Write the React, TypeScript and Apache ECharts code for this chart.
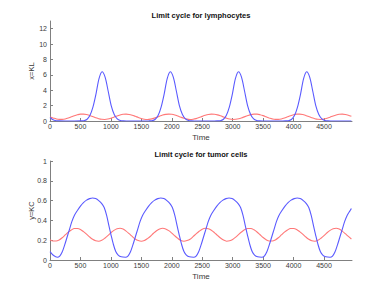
import React, { useEffect, useRef } from 'react';
import * as echarts from 'echarts';

// Sample times (shared by the two red curves)
const sampleTime = [
  0, 50, 100, 150, 200, 250, 300, 350, 400, 450,
  500, 550, 600, 650, 700, 750, 800, 850, 900, 950,
  1000, 1050, 1100, 1150, 1200, 1250, 1300, 1350, 1400, 1450,
  1500, 1550, 1600, 1650, 1700, 1750, 1800, 1850, 1900, 1950,
  2000, 2050, 2100, 2150, 2200, 2250, 2300, 2350, 2400, 2450,
  2500, 2550, 2600, 2650, 2700, 2750, 2800, 2850, 2900, 2950,
  3000, 3050, 3100, 3150, 3200, 3250, 3300, 3350, 3400, 3450,
  3500, 3550, 3600, 3650, 3700, 3750, 3800, 3850, 3900, 3950,
  4000, 4050, 4100, 4150, 4200, 4250, 4300, 4350, 4400, 4450,
  4500, 4550, 4600, 4650, 4700, 4750, 4800, 4850, 4900, 4950,
];

// Lymphocytes (x = KL), red curve
const lymphRed = [
  0.50, 0.40, 0.28, 0.21, 0.21, 0.27, 0.39, 0.54, 0.69, 0.81,
  0.89, 0.89, 0.84, 0.72, 0.58, 0.43, 0.30, 0.22, 0.20, 0.25,
  0.36, 0.50, 0.66, 0.79, 0.88, 0.90, 0.855, 0.75, 0.61, 0.46,
  0.32, 0.23, 0.20, 0.24, 0.34, 0.47, 0.63, 0.77, 0.86, 0.90,
  0.87, 0.78, 0.64, 0.49, 0.35, 0.24, 0.20, 0.23, 0.31, 0.45,
  0.60, 0.74, 0.85, 0.90, 0.88, 0.80, 0.67, 0.52, 0.37, 0.26,
  0.20, 0.22, 0.29, 0.42, 0.57, 0.71, 0.83, 0.89, 0.89, 0.82,
  0.70, 0.55, 0.40, 0.28, 0.21, 0.21, 0.27, 0.39, 0.54, 0.69,
  0.81, 0.89, 0.89, 0.84, 0.72, 0.58, 0.43, 0.30, 0.22, 0.20,
  0.25, 0.36, 0.50, 0.66, 0.79, 0.88, 0.90, 0.855, 0.75, 0.61,
];

// Tumor cells (y = KC), red curve
const tumorRed = [
  0.205, 0.192, 0.192, 0.203, 0.225, 0.253, 0.281, 0.303, 0.318, 0.318,
  0.309, 0.287, 0.261, 0.233, 0.209, 0.194, 0.190, 0.199, 0.220, 0.246,
  0.275, 0.299, 0.316, 0.320, 0.312, 0.292, 0.266, 0.238, 0.212, 0.196,
  0.190, 0.197, 0.216, 0.240, 0.270, 0.296, 0.313, 0.320, 0.314, 0.297,
  0.272, 0.244, 0.218, 0.197, 0.190, 0.196, 0.210, 0.236, 0.264, 0.290,
  0.311, 0.320, 0.316, 0.301, 0.277, 0.249, 0.222, 0.201, 0.190, 0.194,
  0.207, 0.231, 0.259, 0.285, 0.307, 0.318, 0.318, 0.305, 0.283, 0.255,
  0.227, 0.205, 0.192, 0.192, 0.203, 0.225, 0.253, 0.281, 0.303, 0.318,
  0.318, 0.309, 0.287, 0.261, 0.233, 0.209, 0.194, 0.190, 0.199, 0.220,
  0.246, 0.275, 0.299, 0.316, 0.320, 0.312, 0.292, 0.266, 0.238, 0.212,
];

// Lymphocytes (x = KL), blue curve
const lymphBlueTime = [
  0, 50, 100, 150, 250, 400,
  505, 555, 605, 655, 705, 755, 805, 855, 905, 955, 1005, 1055, 1105, 1155, 1205, 1255, 1400, 1600,
  1625, 1675, 1725, 1775, 1825, 1875, 1925, 1975, 2025, 2075, 2125, 2175, 2225, 2275, 2325, 2375, 2500, 2700,
  2745, 2795, 2845, 2895, 2945, 2995, 3045, 3095, 3145, 3195, 3245, 3295, 3345, 3395, 3445, 3495, 3650, 3820,
  3865, 3915, 3965, 4015, 4065, 4115, 4165, 4215, 4265, 4315, 4365, 4415, 4465, 4515, 4565, 4615, 4750, 4950,
];
const lymphBlue = [
  0.45, 0.15, 0.04, 0.01, 0, 0,
  0.01, 0.04, 0.2, 0.7, 1.8, 3.5, 5.5, 6.4, 5.7, 3.9, 2.0, 0.85, 0.28, 0.07, 0.015, 0.003, 0, 0,
  0.01, 0.04, 0.2, 0.7, 1.8, 3.5, 5.5, 6.4, 5.7, 3.9, 2.0, 0.85, 0.28, 0.07, 0.015, 0.003, 0, 0,
  0.01, 0.04, 0.2, 0.7, 1.8, 3.5, 5.5, 6.4, 5.7, 3.9, 2.0, 0.85, 0.28, 0.07, 0.015, 0.003, 0, 0,
  0.01, 0.04, 0.2, 0.7, 1.8, 3.5, 5.5, 6.4, 5.7, 3.9, 2.0, 0.85, 0.28, 0.07, 0.015, 0.003, 0, 0,
];

// Tumor cells (y = KC), blue curve
const tumorBlueTime = [
  0, 60,
  120, 160, 200, 240, 280, 320, 360, 400, 450, 500, 550, 600, 650, 700, 750, 800, 850, 890, 930, 970, 1000, 1040, 1080, 1120, 1170,
  1240, 1280, 1320, 1360, 1400, 1440, 1480, 1520, 1570, 1620, 1670, 1720, 1770, 1820, 1870, 1920, 1970, 2010, 2050, 2090, 2120, 2160, 2200, 2240, 2290,
  2360, 2400, 2440, 2480, 2520, 2560, 2600, 2640, 2690, 2740, 2790, 2840, 2890, 2940, 2990, 3040, 3090, 3130, 3170, 3210, 3240, 3280, 3320, 3360, 3410,
  3480, 3520, 3560, 3600, 3640, 3680, 3720, 3760, 3810, 3860, 3910, 3960, 4010, 4060, 4110, 4160, 4210, 4250, 4290, 4330, 4360, 4400, 4440, 4480, 4530,
  4600, 4640, 4680, 4720, 4760, 4800, 4840, 4880, 4930, 4950,
];
const tumorBlue = [
  0.085, 0.045,
  0.028, 0.04, 0.08, 0.15, 0.23, 0.31, 0.39, 0.45, 0.50, 0.545, 0.58, 0.605, 0.62, 0.627, 0.62, 0.60, 0.57, 0.53, 0.45, 0.34, 0.26, 0.16, 0.085, 0.05, 0.032,
  0.028, 0.04, 0.08, 0.15, 0.23, 0.31, 0.39, 0.45, 0.50, 0.545, 0.58, 0.605, 0.62, 0.627, 0.62, 0.60, 0.57, 0.53, 0.45, 0.34, 0.26, 0.16, 0.085, 0.05, 0.032,
  0.028, 0.04, 0.08, 0.15, 0.23, 0.31, 0.39, 0.45, 0.50, 0.545, 0.58, 0.605, 0.62, 0.627, 0.62, 0.60, 0.57, 0.53, 0.45, 0.34, 0.26, 0.16, 0.085, 0.05, 0.032,
  0.028, 0.04, 0.08, 0.15, 0.23, 0.31, 0.39, 0.45, 0.50, 0.545, 0.58, 0.605, 0.62, 0.627, 0.62, 0.60, 0.57, 0.53, 0.45, 0.34, 0.26, 0.16, 0.085, 0.05, 0.032,
  0.028, 0.04, 0.08, 0.15, 0.23, 0.31, 0.39, 0.45, 0.50, 0.52,
];

const timeTicks = [0, 500, 1000, 1500, 2000, 2500, 3000, 3500, 4000, 4500];
const lymphTicks = [0, 2, 4, 6, 8, 10, 12];
const tumorTicks = [0, 0.2, 0.4, 0.6, 0.8, 1];

const titles = ['Limit cycle for lymphocytes', 'Limit cycle for tumor cells'];
const yNames = ['x=KL', 'y=KC'];
const xName = 'Time';

const FONT = 'Liberation Sans, Arial, Helvetica, sans-serif';
const AXIS = '#808080';
const LABEL = '#3a3a3a';
const BLUE = '#5a5aff';
const RED = '#ff7878';

const pairs = (xs: number[], ys: number[]) => xs.map((x, i) => [x, ys[i]]);
const plain = (v: number) => String(v);

function xAxisOpt(gridIndex: number) {
  return {
    type: 'value',
    gridIndex,
    min: 0,
    max: 4960,
    name: xName,
    nameLocation: 'middle',
    nameGap: 12,
    nameMoveOverlap: false,
    nameTextStyle: { fontFamily: FONT, fontSize: 8, color: LABEL },
    axisLine: { show: true, lineStyle: { color: AXIS, width: 1 } },
    axisTick: { show: true, inside: true, length: 3, lineStyle: { color: AXIS }, customValues: timeTicks },
    axisLabel: { show: true, fontFamily: FONT, fontSize: 7, color: LABEL, margin: 2, customValues: timeTicks, formatter: plain },
    splitLine: { show: false },
  };
}

function yAxisOpt(gridIndex: number, max: number, ticks: number[], name: string) {
  return {
    type: 'value',
    gridIndex,
    min: 0,
    max,
    name,
    nameLocation: 'middle',
    nameGap: 14.5,
    nameMoveOverlap: false,
    nameTextStyle: { fontFamily: FONT, fontSize: 7.5, color: LABEL },
    axisLine: { show: true, lineStyle: { color: AXIS, width: 1 } },
    axisTick: { show: true, inside: true, length: 3, lineStyle: { color: AXIS }, customValues: ticks },
    axisLabel: { show: true, fontFamily: FONT, fontSize: 7, color: LABEL, margin: 3, customValues: ticks, formatter: plain },
    splitLine: { show: false },
  };
}

function lineSeries(xi: number, data: number[][], color: string) {
  return {
    type: 'line',
    xAxisIndex: xi,
    yAxisIndex: xi,
    data,
    showSymbol: false,
    smooth: 0.3,
    silent: true,
    lineStyle: { color, width: 1.1 },
    itemStyle: { color },
  };
}

export default function App() {
  const ref = useRef<HTMLDivElement>(null);
  useEffect(() => {
    if (!ref.current) return;
    const chart = echarts.init(ref.current, undefined, { renderer: 'svg' });
    chart.setOption({
      animation: false,
      backgroundColor: '#ffffff',
      grid: [
        { left: 50, top: 21, width: 302, height: 100 },
        { left: 50, top: 161, width: 302, height: 99 },
      ],
      xAxis: [xAxisOpt(0), xAxisOpt(1)],
      yAxis: [
        yAxisOpt(0, 13, lymphTicks, yNames[0]),
        yAxisOpt(1, 1, tumorTicks, yNames[1]),
      ],
      graphic: [
        {
          type: 'text',
          x: 201,
          y: 15,
          style: { text: titles[0], fontFamily: FONT, fontSize: 7.5, fontWeight: 'bold', fill: '#111', align: 'center', verticalAlign: 'middle' },
        },
        {
          type: 'text',
          x: 201,
          y: 154,
          style: { text: titles[1], fontFamily: FONT, fontSize: 7.5, fontWeight: 'bold', fill: '#111', align: 'center', verticalAlign: 'middle' },
        },
      ],
      series: [
        lineSeries(0, pairs(sampleTime, lymphRed), RED),
        lineSeries(0, pairs(lymphBlueTime, lymphBlue), BLUE),
        lineSeries(1, pairs(sampleTime, tumorRed), RED),
        lineSeries(1, pairs(tumorBlueTime, tumorBlue), BLUE),
      ],
    });
    return () => chart.dispose();
  }, []);
  return (
    <div
      ref={ref}
      style={{ position: 'absolute', left: 0, top: 0, width: 389, height: 292, background: '#fff' }}
    />
  );
}
